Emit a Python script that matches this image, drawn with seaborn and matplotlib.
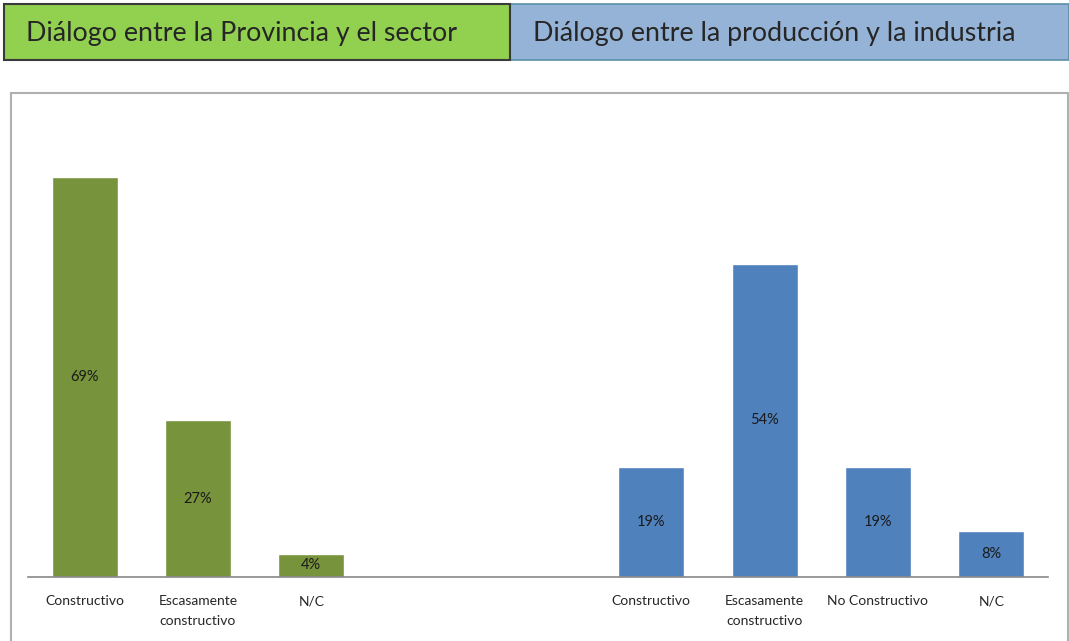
import pandas as pd
import matplotlib.pyplot as plt
import seaborn as sns
from matplotlib.patches import Rectangle

# =========================
# DATA
# =========================

grupos = ["Provincia", "Provincia", "Provincia", "vacio", "vacio",
          "Produccion", "Produccion", "Produccion", "Produccion"]
etiquetas = ["Constructivo", "Escasamente\nconstructivo", "N/C", "", "",
             "Constructivo", "Escasamente\nconstructivo", "No Constructivo", "N/C"]
valores = [69, 27, 4, 0, 0, 19, 54, 19, 8]

titulo_izq = "Diálogo entre la Provincia y el sector"
titulo_der = "Diálogo entre la producción y la industria"

df = pd.DataFrame({
    "slot": [f"s{i}" for i in range(len(valores))],
    "grupo": grupos,
    "valor": valores,
})

colores = {"Provincia": "#77933C", "vacio": "#FFFFFF", "Produccion": "#4F81BD"}

# =========================
# FIGURE
# =========================

sns.set_style("white")
plt.rcParams['font.family'] = ['Lato', 'DejaVu Sans']

fig = plt.figure(figsize=(10.69, 6.41), dpi=100)
W, H = 1069, 641

# header boxes
fig.patches.append(Rectangle((510 / W, 1 - 60 / H), 559 / W, 56 / H,
                             transform=fig.transFigure, facecolor="#95B3D7",
                             edgecolor="#5A8FA8", linewidth=1.2, zorder=-2))
fig.patches.append(Rectangle((4 / W, 1 - 60 / H), 506 / W, 56 / H,
                             transform=fig.transFigure, facecolor="#92D050",
                             edgecolor="#3A3A3A", linewidth=1.5, zorder=-2))
fig.text(26 / W, 1 - 33 / H, titulo_izq, fontsize=19.3, va="center", ha="left")
fig.text(533 / W, 1 - 33 / H, titulo_der, fontsize=19.3, va="center", ha="left")

# chart frame
fig.patches.append(Rectangle((11 / W, -0.05), 1057 / W, 1.05 - 93 / H,
                             transform=fig.transFigure, facecolor="white",
                             edgecolor="#B0B0B0", linewidth=1.5, zorder=-2))

ax = fig.add_axes([28 / W, 1 - 577 / H, 1020 / W, 458 / H])
ax.set_facecolor("none")

sns.barplot(data=df, x="slot", y="valor", hue="grupo", palette=colores,
            dodge=False, width=0.58, saturation=1, legend=False, ax=ax)

for cont in ax.containers:
    labs = [f"{v:.0f}%" if v > 0 else "" for v in cont.datavalues]
    ax.bar_label(cont, labels=labs, label_type="center", fontsize=10.5,
                 color="#1a1a1a")

ax.set_ylim(0, 79)
ax.set_xlim(-0.5, len(valores) - 0.5)
ax.set_xticks(range(len(valores)))
ax.set_xticklabels(etiquetas, fontsize=10, linespacing=1.75)
ax.tick_params(axis="x", length=0, pad=13)
ax.set_yticks([])
ax.set_xlabel("")
ax.set_ylabel("")

for s in ["top", "right", "left"]:
    ax.spines[s].set_visible(False)
ax.spines["bottom"].set_color("#888888")
ax.spines["bottom"].set_linewidth(1.2)

plt.savefig("out.png", dpi=100)
